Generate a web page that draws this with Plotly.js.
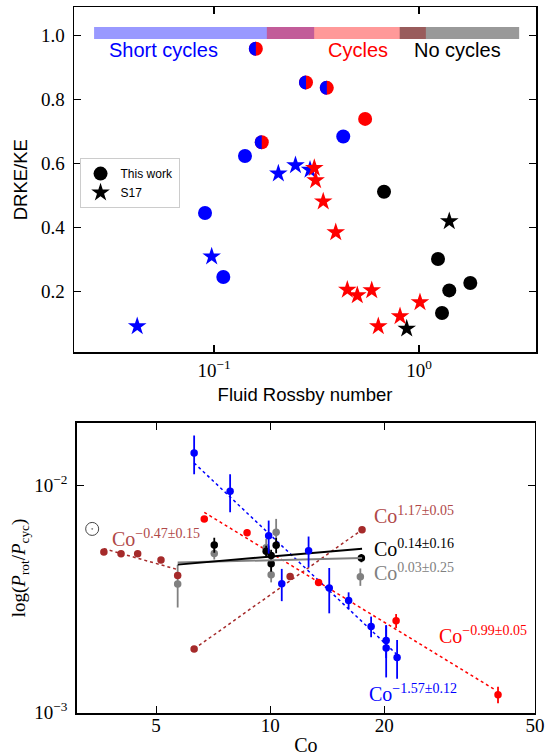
<!DOCTYPE html>
<html><head><meta charset="utf-8">
<script src="https://cdn.plot.ly/plotly-3.0.1.min.js"></script>
<style>html,body{margin:0;padding:0;background:#fff}#chart{width:545px;height:756px}</style>
</head><body><div id="chart"></div>
<script>
// ===== Top panel: DRKE/KE vs fluid Rossby number =====
const halfRo  = [0.160, 0.281, 0.355, 0.171];          // blue/red half circles
const halfDR  = [0.959, 0.854, 0.837, 0.667];
const blueRo  = [0.1416, 0.427, 0.0904, 0.111];
const blueDR  = [0.624, 0.685, 0.446, 0.246];
const redRo   = [0.546];
const redDR   = [0.740];
const blackRo = [0.675, 1.238, 1.779, 1.405, 1.295];
const blackDR = [0.5125, 0.302, 0.227, 0.204, 0.1334];
const s17BlueRo  = [0.206, 0.2497, 0.294, 0.0974, 0.0422];
const s17BlueDR  = [0.569, 0.595, 0.581, 0.310, 0.0916];
const s17RedRo   = [0.3085, 0.313, 0.341, 0.3925, 0.447, 0.500, 0.588, 0.633, 0.808, 1.011];
const s17RedDR   = [0.5866, 0.548, 0.482, 0.3853, 0.206, 0.1884, 0.204, 0.0916, 0.1228, 0.1666];
const s17BlackRo = [1.405, 0.871];
const s17BlackDR = [0.4197, 0.0844];
const regimeNames  = ['Short cycles', 'Cycles', 'No cycles'];
const regimeColors = ['rgba(0,0,255,0.4)', 'rgba(255,0,0,0.4)', 'rgba(0,0,0,0.4)'];
const regimeText   = ['blue', 'red', 'black'];
const regimeStart  = [0.026, 0.181, 0.805];
const regimeEnd    = [0.308, 1.08, 3.08];
const regimeLow = 0.99, regimeHigh = 1.027;
const regimeLabelRo = [0.057, 0.506, 1.538];
const regimeLabelDR = 0.955;
const topXTicks = [0.1, 1], topXTickText = ['10<sup>−1</sup>', '10<sup>0</sup>'];
const topXMinor = [0.03, 0.04, 0.05, 0.06, 0.07, 0.08, 0.09, 0.2, 0.3, 0.4, 0.5, 0.6, 0.7, 0.8, 0.9, 2, 3];
const topYTicks = [0.2, 0.4, 0.6, 0.8, 1.0], topYTickText = ['0.2', '0.4', '0.6', '0.8', '1.0'];

// ===== Bottom panel: Prot/Pcyc vs Co =====
const blueCo  = [6.30, 7.84, 9.91, 12.63, 10.73, 14.32, 16.11, 18.47, 20.24, 20.24, 21.63];
const blueP   = [0.01393, 0.00944, 0.00602, 0.00517, 0.00370, 0.00354, 0.00312, 0.00240, 0.00208, 0.00193, 0.00175];
const blueErr = [0.0027, 0.0018, 0.0010, 0.0008, 0.0006, 0.0008, 0.00027, 0.00025, 0.00034, 0.0005, 0.00034];
const redCo   = [6.70, 8.69, 13.42, 21.5, 39.94];
const redP    = [0.00713, 0.00621, 0.00375, 0.00254, 0.00120];
const redErr  = [0.0002, 0.0002, 0.0001, 0.00018, 0.0001];
const brownCo = [3.64, 4.04, 4.47, 5.15, 5.70, 6.30, 11.29, 17.48];
const brownP  = [0.0051, 0.00502, 0.00502, 0.00471, 0.00402, 0.00191, 0.00398, 0.0064];
const blackCo  = [7.12, 9.76, 10.37, 10.06, 10.06, 17.41];
const blackP   = [0.00548, 0.00514, 0.00546, 0.00453, 0.00492, 0.0048];
const blackErr = [0.00042, 0.0003, 0.00042, 0.00035, 0.0003, 0.0002];
const grayCo   = [5.70, 7.12, 10.37, 10.06, 17.30, 9.76];
const grayP    = [0.00369, 0.00503, 0.00624, 0.00405, 0.00397, 0.00533];
const grayErr  = [0.00078, 0.0003, 0.0009, 0.0003, 0.00035, 0.0005];
const sunCo = [3.39], sunP = [0.00645];
// fitted power laws (end points)
const fitBlueCo = [6.30, 21.63],  fitBlueP = [0.01259, 0.0018];
const fitRedCo  = [6.70, 38.97],  fitRedP  = [0.00763, 0.00127];
const fitBrownLoCo = [3.64, 5.70], fitBrownLoP = [0.00528, 0.00427];
const fitBrownHiCo = [6.30, 17.48], fitBrownHiP = [0.00191, 0.0064];
const fitBlackCo = [5.70, 17.48], fitBlackP = [0.00449, 0.00528];
const fitGrayCo  = [5.70, 17.48], fitGrayP  = [0.00459, 0.0048];
const fitLabels  = ['Co<sup>−0.47±0.15</sup>', 'Co<sup>1.17±0.05</sup>', 'Co<sup>0.14±0.16</sup>',
                    'Co<sup>0.03±0.25</sup>', 'Co<sup>−0.99±0.05</sup>', 'Co<sup>−1.57±0.12</sup>'];
const fitLabelColors = ['#b04848', '#b04848', 'black', 'gray', 'red', 'blue'];
const fitLabelCo = [3.78, 18.57, 18.57, 18.57, 27.56, 18.02];
const fitLabelP  = [0.0059, 0.00745, 0.00533, 0.00418, 0.00221, 0.00122];
const botXTicks = [5, 10, 20, 50], botXTickText = ['5', '10', '20', '50'];
const botXMinor = [4, 6, 7, 8, 9, 30, 40];
const botYTicks = [0.001, 0.01], botYTickText = ['10<sup>−3</sup>', '10<sup>−2</sup>'];
const botYMinor = [0.002, 0.003, 0.004, 0.005, 0.006, 0.007, 0.008, 0.009];

const SANS = 'Liberation Sans, Arial, sans-serif';
const SERIF = 'Liberation Serif, Times New Roman, serif';
const traces = [];

// regime bands
regimeNames.forEach((n, i) => {
  traces.push({x:[regimeStart[i], regimeEnd[i], regimeEnd[i], regimeStart[i], regimeStart[i]],
    y:[regimeLow, regimeLow, regimeHigh, regimeHigh, regimeLow], xaxis:'x', yaxis:'y',
    type:'scatter', mode:'none', fill:'toself', fillcolor:regimeColors[i], showlegend:false, hoverinfo:'skip'});
});
const star = (x, y, c, leg) => ({x, y, xaxis:'x', yaxis:'y', type:'scatter', mode:'markers',
  marker:{symbol:'star', size:14, color:c}, name:'S17', showlegend:!!leg});
const dot = (x, y, c, leg) => ({x, y, xaxis:'x', yaxis:'y', type:'scatter', mode:'markers',
  marker:{symbol:'circle', size:14, color:c}, name:'This work', showlegend:!!leg});
traces.push(dot(blackRo, blackDR, 'black', true));
traces.push(star(s17BlackRo, s17BlackDR, 'black', true));
traces.push(dot(blueRo, blueDR, 'blue'));
traces.push(dot(redRo, redDR, 'red'));
traces.push(dot(halfRo, halfDR, 'red'));
traces.push(star(s17BlueRo, s17BlueDR, 'blue'));
traces.push(star(s17RedRo, s17RedDR, 'red'));

// bottom fits
const fit = (x, y, c, dash, w) => ({x, y, xaxis:'x2', yaxis:'y2', type:'scatter', mode:'lines',
  line:{color:c, dash:dash, width:w}, showlegend:false, hoverinfo:'skip'});
traces.push(fit(fitBrownLoCo, fitBrownLoP, 'brown', 'dot', 1.5));
traces.push(fit(fitBrownHiCo, fitBrownHiP, 'brown', 'dot', 1.5));
traces.push(fit(fitRedCo, fitRedP, 'red', 'dot', 1.5));
traces.push(fit(fitBlueCo, fitBlueP, 'blue', 'dot', 1.5));
const pts = (x, y, c, err) => {
  const t = {x, y, xaxis:'x2', yaxis:'y2', type:'scatter', mode:'markers',
    marker:{size:7.5, color:c}, showlegend:false};
  if (err) t.error_y = {type:'data', array:err, symmetric:true, color:c, thickness:1.8, width:0};
  return t;
};
traces.push(pts(grayCo, grayP, 'gray', grayErr));
traces.push(pts(blackCo, blackP, 'black', blackErr));
traces.push(fit(fitGrayCo, fitGrayP, 'gray', 'solid', 2));
traces.push(fit(fitBlackCo, fitBlackP, 'black', 'solid', 2));
traces.push(pts(brownCo, brownP, 'brown'));
traces.push(pts(redCo, redP, 'red', redErr));
traces.push(pts(blueCo, blueP, 'blue', blueErr));
traces.push({x:sunCo, y:sunP, xaxis:'x2', yaxis:'y2', type:'scatter', mode:'markers',
  marker:{symbol:'circle-open-dot', size:13, color:'#444', line:{width:1, color:'#444'}}, showlegend:false});

// half-circle overlays (blue left halves)
const halfPath = 'M0,7 C-3.87,7 -7,3.87 -7,0 C-7,-3.87 -3.87,-7 0,-7 Z';
const shapes = halfRo.map((x, i) => ({type:'path', xref:'x', yref:'y', xsizemode:'pixel', ysizemode:'pixel',
  xanchor:x, yanchor:halfDR[i], path:halfPath, fillcolor:'blue', line:{width:0, color:'rgba(0,0,0,0)'}, layer:'above'}));

const annotations = [];
regimeNames.forEach((n, i) => annotations.push({xref:'x', yref:'y', x:Math.log10(regimeLabelRo[i]), y:regimeLabelDR,
  text:n, showarrow:false, xanchor:'center', yanchor:'middle', font:{family:SANS, size:20, color:regimeText[i]}}));
fitLabels.forEach((t, i) => annotations.push({xref:'x2', yref:'y2', x:Math.log10(fitLabelCo[i]), y:Math.log10(fitLabelP[i]),
  text:t, showarrow:false, xanchor:'left', yanchor:'middle', font:{family:SERIF, size:20, color:fitLabelColors[i]}}));

const axBase = {showline:true, linecolor:'black', linewidth:1.5, mirror:'ticks', ticks:'inside', ticklen:7,
  tickwidth:1.2, tickcolor:'black', showgrid:false, zeroline:false, tickmode:'array',
  tickfont:{family:SERIF, size:19, color:'black'}};
// minor-tick axes overlaid on the main ones (no labels)
const minorAx = (over, anchor, type, range, vals) => ({overlaying:over, anchor:anchor, type:type, range:range,
  tickmode:'array', tickvals:vals, ticks:'inside', ticklen:3.5, tickwidth:1, tickcolor:'black', mirror:'ticks',
  showline:false, showgrid:false, zeroline:false, showticklabels:false});

const topXRange = [-1.683, 0.5707], topYRange = [0.0103, 1.0897];
const botXRange = [0.4893, 1.699], botYRange = [-3.0013, -1.7238];

const layout = {
  width:545, height:756, paper_bgcolor:'white', plot_bgcolor:'white',
  margin:{l:74, r:9, t:7.3, b:42.7}, showlegend:true,
  xaxis: Object.assign({}, axBase, {type:'log', range:topXRange, domain:[0,1], anchor:'y',
    tickvals:topXTicks, ticktext:topXTickText, ticklabelstandoff:0,
    title:{text:'Fluid Rossby number', font:{family:SANS, size:18.5, color:'black'}, standoff:8}}),
  yaxis: Object.assign({}, axBase, {range:topYRange, domain:[0.5108, 1], anchor:'x',
    tickvals:topYTicks, ticktext:topYTickText, ticklabelstandoff:4,
    title:{text:'DRKE/KE', font:{family:SANS, size:18.5, color:'black'}, standoff:8}}),
  xaxis2: Object.assign({}, axBase, {type:'log', range:botXRange, domain:[0.0058, 0.9978], anchor:'y2',
    tickvals:botXTicks, ticktext:botXTickText, ticklabelstandoff:-5,
    title:{text:'Co', font:{family:SERIF, size:20, color:'black'}, standoff:8}}),
  yaxis2: Object.assign({}, axBase, {type:'log', range:botYRange, domain:[0, 0.4108], anchor:'x2',
    tickvals:botYTicks, ticktext:botYTickText, ticklabelstandoff:4,
    title:{text:'log(<i>P</i><sub>rot</sub>/<i>P</i><sub>cyc</sub>)', font:{family:SERIF, size:19, color:'black'}, standoff:3}}),
  xaxis3: minorAx('x', 'y', 'log', topXRange, topXMinor),
  xaxis4: minorAx('x2', 'y2', 'log', botXRange, botXMinor),
  yaxis3: minorAx('y2', 'x2', 'log', botYRange, botYMinor),
  legend:{x:0.012, y:0.786, xanchor:'left', yanchor:'top', bgcolor:'white', bordercolor:'#cccccc', borderwidth:1,
    font:{family:SANS, size:12, color:'black'}, tracegroupgap:0},
  shapes:shapes, annotations:annotations
};
Plotly.newPlot('chart', traces, layout, {displayModeBar:false, staticPlot:true});
</script></body></html>
